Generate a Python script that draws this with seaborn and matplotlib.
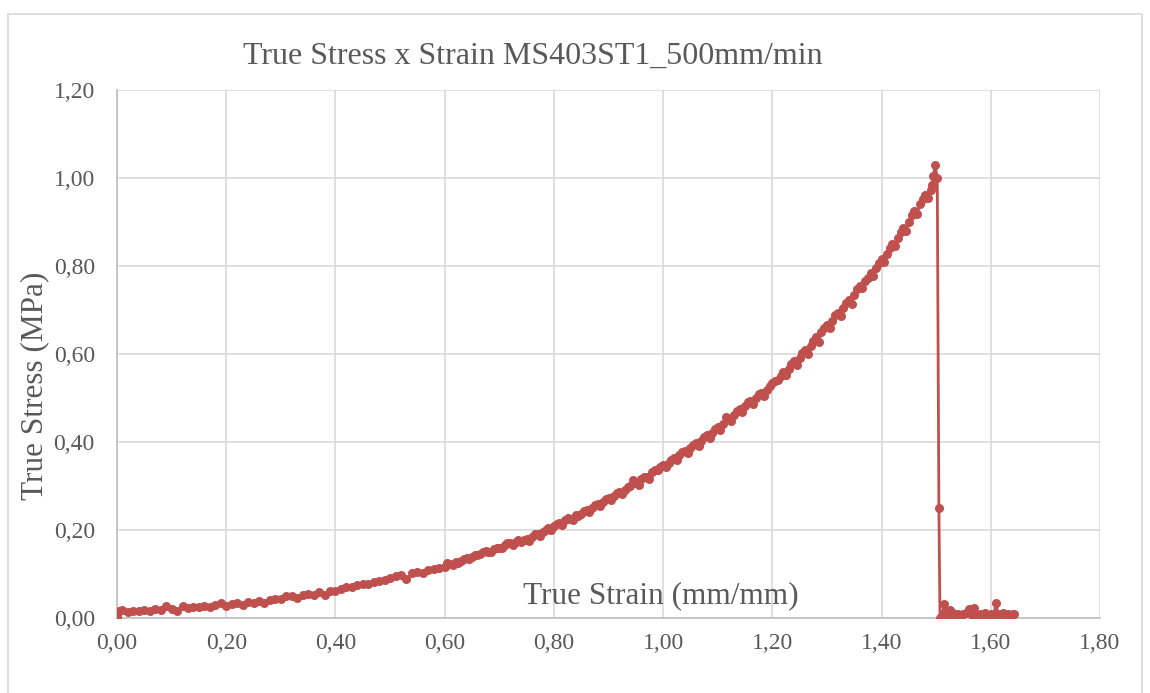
import matplotlib
matplotlib.use("Agg")
import matplotlib.pyplot as plt
import seaborn as sns
import pandas as pd
from matplotlib.patches import Rectangle
from matplotlib.ticker import FuncFormatter

title = "True Stress x Strain MS403ST1_500mm/min"
x_label = "True Strain (mm/mm)"
y_label = "True Stress (MPa)"

# segment A: start to 0.595
strain_a = [
    0.000, 0.000, 0.000, 0.003,
    0.01, 0.02, 0.03, 0.04, 0.05, 0.06, 0.07, 0.08, 0.09,
    0.10, 0.11, 0.12, 0.13, 0.14, 0.15, 0.16, 0.17, 0.18, 0.19,
    0.20, 0.21, 0.22, 0.23, 0.24, 0.25, 0.26, 0.27, 0.28, 0.29,
    0.30, 0.31, 0.32, 0.33, 0.34, 0.35, 0.36, 0.37, 0.38, 0.39,
    0.40, 0.41, 0.42, 0.43, 0.44, 0.45, 0.46, 0.47, 0.48, 0.49,
    0.50, 0.51, 0.52, 0.53, 0.54, 0.55, 0.56, 0.57, 0.58, 0.59,
]
stress_a = [
    0.000, 0.006, 0.012, 0.017,
    0.019, 0.014, 0.016, 0.015, 0.018, 0.017, 0.020, 0.018, 0.027,
    0.021, 0.016, 0.027, 0.022, 0.025, 0.024, 0.028, 0.026, 0.029, 0.033,
    0.028, 0.031, 0.033, 0.030, 0.036, 0.033, 0.039, 0.034, 0.041, 0.043,
    0.044, 0.049, 0.051, 0.046, 0.052, 0.054, 0.053, 0.060, 0.052, 0.062,
    0.062, 0.067, 0.071, 0.071, 0.075, 0.077, 0.078, 0.082, 0.083, 0.086,
    0.091, 0.095, 0.098, 0.088, 0.102, 0.105, 0.103, 0.109, 0.111, 0.114,
]

# segment B: dense part 0.60 to 1.493
strain_b = [
    0.600, 0.605, 0.610, 0.615, 0.620, 0.625, 0.630, 0.635, 0.640, 0.645,
    0.650, 0.655, 0.660, 0.665, 0.670, 0.675, 0.680, 0.685, 0.690, 0.695,
    0.700, 0.705, 0.710, 0.715, 0.720, 0.725, 0.730, 0.735, 0.740, 0.745,
    0.750, 0.755, 0.760, 0.765, 0.770, 0.775, 0.780, 0.785, 0.790, 0.795,
    0.800, 0.805, 0.810, 0.815, 0.820, 0.825, 0.830, 0.835, 0.840, 0.845,
    0.850, 0.855, 0.860, 0.865, 0.870, 0.875, 0.880, 0.885, 0.890, 0.895,
    0.900, 0.905, 0.910, 0.915, 0.920, 0.925, 0.930, 0.935, 0.940, 0.945,
    0.950, 0.955, 0.960, 0.965, 0.970, 0.975, 0.980, 0.985, 0.990, 0.995,
    1.000, 1.005, 1.010, 1.015, 1.020, 1.025, 1.030, 1.035, 1.040, 1.045,
    1.050, 1.055, 1.060, 1.065, 1.070, 1.075, 1.080, 1.085, 1.090, 1.095,
    1.100, 1.105, 1.110, 1.115, 1.120, 1.125, 1.130, 1.135, 1.140, 1.145,
    1.150, 1.155, 1.160, 1.165, 1.170, 1.175, 1.180, 1.185, 1.190, 1.195,
    1.200, 1.205, 1.210, 1.215, 1.220, 1.225, 1.230, 1.235, 1.240, 1.245,
    1.250, 1.255, 1.260, 1.265, 1.270, 1.275, 1.280, 1.285, 1.290, 1.295,
    1.300, 1.305, 1.310, 1.315, 1.320, 1.325, 1.330, 1.335, 1.340, 1.345,
    1.350, 1.355, 1.360, 1.365, 1.370, 1.375, 1.380, 1.385, 1.390, 1.395,
    1.400, 1.405, 1.410, 1.415, 1.420, 1.425, 1.430, 1.435, 1.440, 1.445,
    1.450, 1.455, 1.460, 1.465, 1.470, 1.475, 1.480, 1.485, 1.490, 1.493,
]
stress_b = [
    0.117, 0.124, 0.123, 0.121, 0.128, 0.126, 0.130, 0.135, 0.136, 0.133,
    0.139, 0.144, 0.143, 0.146, 0.149, 0.153, 0.151, 0.150, 0.156, 0.160,
    0.159, 0.158, 0.166, 0.170, 0.170, 0.165, 0.173, 0.177, 0.172, 0.178,
    0.180, 0.176, 0.184, 0.190, 0.191, 0.186, 0.196, 0.201, 0.204, 0.199,
    0.208, 0.214, 0.216, 0.211, 0.222, 0.227, 0.225, 0.222, 0.234, 0.232,
    0.237, 0.244, 0.246, 0.241, 0.250, 0.256, 0.259, 0.254, 0.264, 0.270,
    0.272, 0.268, 0.278, 0.284, 0.287, 0.281, 0.291, 0.298, 0.301, 0.314,
    0.306, 0.303, 0.315, 0.320, 0.321, 0.316, 0.331, 0.336, 0.337, 0.343,
    0.347, 0.343, 0.353, 0.360, 0.364, 0.358, 0.370, 0.377, 0.380, 0.374,
    0.386, 0.394, 0.398, 0.392, 0.403, 0.412, 0.415, 0.409, 0.421, 0.430,
    0.434, 0.428, 0.442, 0.456, 0.454, 0.448, 0.461, 0.470, 0.476, 0.468,
    0.481, 0.490, 0.494, 0.487, 0.499, 0.508, 0.512, 0.505, 0.519, 0.527,
    0.533, 0.538, 0.542, 0.551, 0.558, 0.553, 0.566, 0.577, 0.583, 0.576,
    0.590, 0.602, 0.608, 0.600, 0.619, 0.630, 0.638, 0.628, 0.649, 0.660,
    0.667, 0.659, 0.676, 0.689, 0.694, 0.686, 0.705, 0.716, 0.723, 0.714,
    0.735, 0.748, 0.755, 0.749, 0.766, 0.772, 0.785, 0.778, 0.795, 0.807,
    0.815, 0.808, 0.828, 0.842, 0.851, 0.845, 0.864, 0.878, 0.887, 0.880,
    0.900, 0.915, 0.925, 0.918, 0.940, 0.952, 0.961, 0.955, 0.973, 0.985,
]

# segment C: peak, fracture drop and post-fracture tail
strain_c = [
    1.495, 1.498, 1.502, 1.505, 1.507,
    1.510, 1.515, 1.518, 1.522, 1.525, 1.530, 1.535, 1.540, 1.545, 1.550,
    1.555, 1.560, 1.565, 1.570, 1.575, 1.580, 1.585, 1.590, 1.595, 1.600,
    1.605, 1.610, 1.613, 1.618, 1.622, 1.628, 1.632, 1.636, 1.640, 1.642,
]
stress_c = [
    1.005, 1.030, 1.000, 0.250, 0.000,
    0.004, 0.032, 0.008, 0.002, 0.018, 0.012, 0.004, 0.010, 0.003, 0.008,
    0.012, 0.020, 0.006, 0.022, 0.004, 0.010, 0.002, 0.012, 0.006, 0.010,
    0.004, 0.035, 0.008, 0.002, 0.012, 0.006, 0.010, 0.004, 0.010, 0.008,
]

x_ticks = [0.0, 0.2, 0.4, 0.6, 0.8, 1.0, 1.2, 1.4, 1.6, 1.8]
y_ticks = [0.0, 0.2, 0.4, 0.6, 0.8, 1.0, 1.2]

df = pd.DataFrame({"strain": strain_a + strain_b + strain_c,
                   "stress": stress_a + stress_b + stress_c})

sns.set_theme(style="white")
plt.rcParams["font.family"] = ["Liberation Serif", "DejaVu Serif"]

red = "#C0504D"
text_col = "#595959"

fig = plt.figure(figsize=(11.5, 6.93), dpi=100)
fig.patch.set_facecolor("white")
ax = fig.add_axes([117 / 1150, 1 - 618 / 693, (1100 - 117) / 1150, (618 - 90) / 693])

sns.lineplot(data=df, x="strain", y="stress", sort=False, estimator=None,
             color=red, linewidth=2.0, marker="o", markersize=6.5,
             markeredgewidth=0, ax=ax, zorder=3)

ax.set_xlim(0, 1.8)
ax.set_ylim(0, 1.2)
ax.set_xticks(x_ticks)
ax.set_yticks(y_ticks)
fmt = FuncFormatter(lambda v, p: f"{v:.2f}".replace(".", ","))
ax.xaxis.set_major_formatter(fmt)
ax.yaxis.set_major_formatter(fmt)
ax.grid(True, color="#D9D9D9", linewidth=1.2)
ax.set_axisbelow(True)
for s in ["top", "right"]:
    ax.spines[s].set_visible(False)
for s in ["left", "bottom"]:
    ax.spines[s].set_color("#BFBFBF")
    ax.spines[s].set_linewidth(1.2)
ax.tick_params(axis="x", length=0, labelsize=17, labelcolor=text_col, pad=11)
ax.tick_params(axis="y", length=0, labelsize=17, labelcolor=text_col, pad=16)
ax.set_xlabel("")
ax.set_ylabel("")
fig.text(35 / 1150, 1 - 386 / 693, y_label, rotation=90, ha="center", va="center",
         fontsize=22.5, color=text_col)
fig.text(661 / 1150, 1 - 596 / 693, x_label, ha="center", va="center",
         fontsize=22.5, color=text_col)

fig.text(533 / 1150, 1 - 56 / 693, title, ha="center", va="center",
         fontsize=23, color=text_col)

fig.patches.append(Rectangle((8 / 1150, -0.02), (1142 - 8) / 1150, 1.0, transform=fig.transFigure,
                             fill=False, edgecolor="#D9D9D9", linewidth=1.2))

fig.savefig("out.png", dpi=100)
